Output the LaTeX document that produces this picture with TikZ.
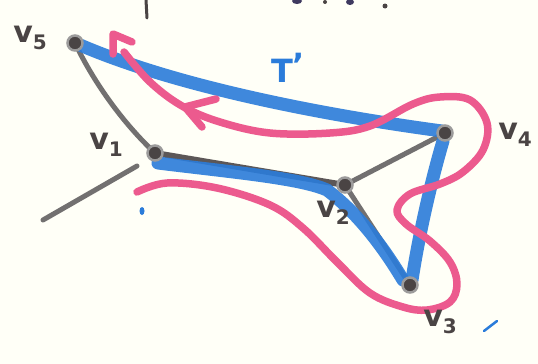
\documentclass[tikz,border=0pt]{standalone}
\usepackage{fontspec}
\setmainfont{DejaVu Sans}
\usetikzlibrary{calc}
\begin{document}
\begin{tikzpicture}[x=1pt,y=-1pt,
  vtx/.style={circle,draw=graytone!70,line width=2.5pt,fill=darkink,inner sep=0pt,minimum size=15pt},
  edgegray/.style={draw=graytone,line width=5pt,line cap=round},
  edgedark/.style={draw=darkink!90,line width=6pt,line cap=round},
  treeblue/.style={draw=markblue,line width=13pt,line cap=round,opacity=0.9},
  tour/.style={draw=markpink,line width=7.5pt,line cap=round,line join=round},
  lbl/.style={text=darkink,font=\fontsize{30}{30}\selectfont\bfseries,inner sep=0pt},
  frag/.style={draw=darkink,line width=3pt,line cap=round}]
\definecolor{graytone}{HTML}{727070}
\definecolor{darkink}{HTML}{4A4444}
\definecolor{markblue}{HTML}{2B7CDA}
\definecolor{markpink}{HTML}{EC5A8E}
\useasboundingbox (0,0) rectangle (538,364);
\fill[white!97!yellow] (0,0) rectangle (538,364);

% vertices positions
\coordinate (p5) at (75,43);
\coordinate (p1) at (155,153);
\coordinate (p2) at (345,185);
\coordinate (p3) at (410,285);
\coordinate (p4) at (445,133);

% gray graph edges
\draw[edgegray] (p5) .. controls (95,85) and (125,125) .. (p1);
\coordinate (stubA) at (137,166);
\coordinate (stubB) at (43,220);
\draw[edgegray] (stubA) -- (stubB);
\draw[edgegray] (p2) -- (p4);
\draw[edgegray] (p2) -- (p3);
\draw[edgedark] (p1) -- (p2);

% blue spanning tree T'
\draw[treeblue] ($(p5)+(5,2)$) .. controls (180,88) and (330,116) .. ($(p4)+(-3,-2)$);
\draw[treeblue] ($(p1)+(3,10)$) .. controls (230,172) and (300,178) .. ($(p2)+(-18,5)$)
  .. controls (360,215) and (385,250) .. ($(p3)+(-7,-5)$);
\draw[treeblue] ($(p4)+(-2,8)$) .. controls (430,185) and (418,240) .. ($(p3)+(2,-5)$);

% vertices
\foreach \v in {p1,p2,p3,p4,p5} \node[vtx] (n\v) at (\v) {};

% pink Euler tour
\coordinate (tourS) at (124,52);
\coordinate (tourE) at (137,192);
\draw[tour] plot[smooth,tension=0.6] coordinates {
 (tourS) (150,82) (182,106) (220,122) (270,133) (330,133) (370,126) (413,104)
 (440,97) (470,100) (487,123) (483,150) (463,172) (440,184) (410,194) (397,210)
 (406,224) (430,241) (450,262) (457,284) (450,302) (427,310) (403,307) (370,293)
 (337,262) (303,228) (270,205) (217,188) (167,183) (tourE)};
% start flag
\coordinate (flagA) at (113,34);
\coordinate (flagB) at (113,54);
\coordinate (flagC) at (132,42);
\draw[tour] (flagB) -- (flagA) -- (flagC);
% arrowhead
\coordinate (arrT) at (185,107);
\coordinate (arrA) at (216,99);
\coordinate (arrB) at (202,127);
\draw[tour] (arrA) -- (arrT) -- (arrB);

% labels
\node[lbl] (l5) at (30,38) {v\raisebox{-7pt}{\fontsize{20}{20}\selectfont 5}};
\node[lbl] (l1) at (106,145) {v\raisebox{-7pt}{\fontsize{20}{20}\selectfont 1}};
\node[lbl] (l2) at (333,213) {v\raisebox{-7pt}{\fontsize{20}{20}\selectfont 2}};
\node[lbl] (l3) at (440,322) {v\raisebox{-7pt}{\fontsize{20}{20}\selectfont 3}};
\node[lbl] (l4) at (515,135) {v\raisebox{-7pt}{\fontsize{20}{20}\selectfont 4}};
\node[text=markblue,font=\fontsize{32}{32}\selectfont\bfseries,inner sep=0pt] (tlab) at (288,68) {T\raisebox{6pt}{'}};

% stray marks
\fill[markblue] (142,211) ellipse (2.5pt and 4pt);
\coordinate (dashA) at (484,331);
\coordinate (dashB) at (497,321);
\draw[markblue,line width=2.5pt,line cap=round] (dashA) -- (dashB);
% cut-off text fragments at top
\coordinate (fA) at (146,0);
\coordinate (fB) at (147,18);
\draw[frag] (fA) -- (fB);
\fill[darkink!85!blue] (297,1) ellipse (5pt and 3pt);
\fill[darkink] (325,2) circle (2pt);
\fill[darkink!85!blue] (350,2) ellipse (4pt and 3pt);
\fill[darkink] (385,6) circle (2.5pt);
\end{tikzpicture}
\end{document}
